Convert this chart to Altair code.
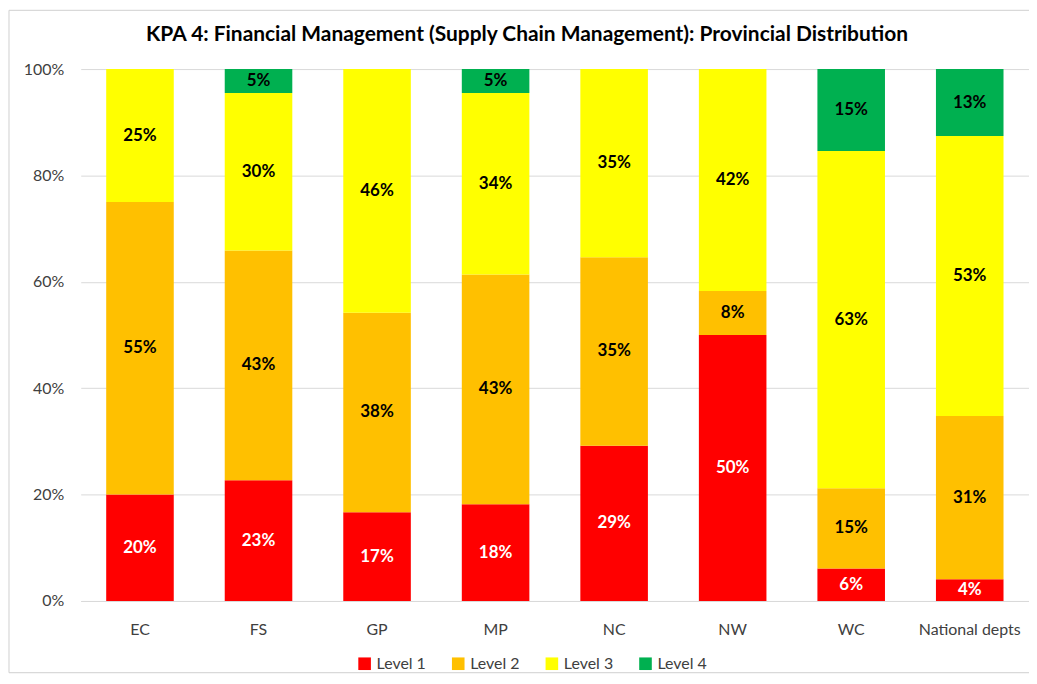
import altair as alt
import pandas as pd

categories = ["EC", "FS", "GP", "MP", "NC", "NW", "WC", "National depts"]
levels = ["Level 1", "Level 2", "Level 3", "Level 4"]
level1 = [20.0, 22.7, 16.7, 18.2, 29.2, 50.0, 6.1, 4.1]
level2 = [55.0, 43.2, 37.5, 43.2, 35.4, 8.3, 15.1, 30.7]
level3 = [25.0, 29.6, 45.8, 34.1, 35.4, 41.7, 63.4, 52.6]
level4 = [0.0, 4.5, 0.0, 4.5, 0.0, 0.0, 15.4, 12.6]
colors = ["#FF0000", "#FFC000", "#FFFF00", "#00B050"]

rows = []
for i, c in enumerate(categories):
    base = 0.0
    for j, (lv, vals) in enumerate(zip(levels, [level1, level2, level3, level4])):
        v = vals[i] / 100.0
        rows.append({"cat": c, "level": lv, "order": j, "value": v,
                     "y0": base, "y1": base + v, "mid": base + v / 2})
        base += v
df = pd.DataFrame(rows)

FONT = "Lato"
W, H = 952, 534

x_enc = alt.X("cat:N", sort=categories, title=None,
              scale=alt.Scale(paddingInner=0.43, paddingOuter=0.215),
              axis=alt.Axis(labelAngle=0, labelFontSize=16, labelPadding=21,
                            ticks=False, domainColor="#d9d9d9", labelColor="#404040",
                            labelFont=FONT))

bars = alt.Chart(df).mark_bar(stroke=None).encode(
    x=x_enc,
    y=alt.Y("y0:Q", scale=alt.Scale(domain=[0, 1]), title=None,
            axis=alt.Axis(format=".0%", values=[0, 0.2, 0.4, 0.6, 0.8, 1.0],
                          labelFontSize=16, labelPadding=17, ticks=False, domain=False,
                          gridColor="#d9d9d9", labelColor="#404040", labelFont=FONT)),
    y2="y1:Q",
    color=alt.Color("level:N", sort=levels,
                    scale=alt.Scale(domain=levels, range=colors),
                    legend=alt.Legend(title=None, orient="none", direction="horizontal",
                                      legendX=277, legendY=589, symbolType="square",
                                      symbolSize=160, symbolStrokeWidth=0,
                                      labelFontSize=16, labelFont=FONT,
                                      labelColor="#404040", columnPadding=24,
                                      symbolOffset=0)),
)

labels = alt.Chart(df).transform_filter("datum.value > 0").transform_calculate(
    lbl="format(datum.value, '.0%')"
).mark_text(fontSize=17, fontWeight="bold", font=FONT, baseline="middle").encode(
    x=alt.X("cat:N", sort=categories),
    y=alt.Y("mid:Q"),
    text="lbl:N",
    color=alt.condition("datum.level == 'Level 1'", alt.value("white"), alt.value("black")),
)

border = alt.Chart(df).mark_rect(fill=None, stroke="#d0d0d0", strokeWidth=1).encode(
    x=alt.value(-72), x2=alt.value(W + 2), y=alt.value(-59), y2=alt.value(H + 72)
).transform_filter("datum.cat == 'EC' && datum.level == 'Level 1'")

chart = alt.layer(bars, labels, border).properties(
    width=W, height=H,
    title=alt.TitleParams("KPA 4: Financial Management (Supply Chain Management): Provincial Distribution",
                          fontSize=21, font=FONT, fontWeight="bold", color="black",
                          anchor="middle", dx=-28, offset=-35),
    autosize=alt.AutoSizeParams(type="none"),
    padding={"left": 73, "top": 60, "right": 0, "bottom": 74},
).configure_view(stroke=None)

chart.save("out.html", embed_options={"renderer": "svg", "actions": False})
